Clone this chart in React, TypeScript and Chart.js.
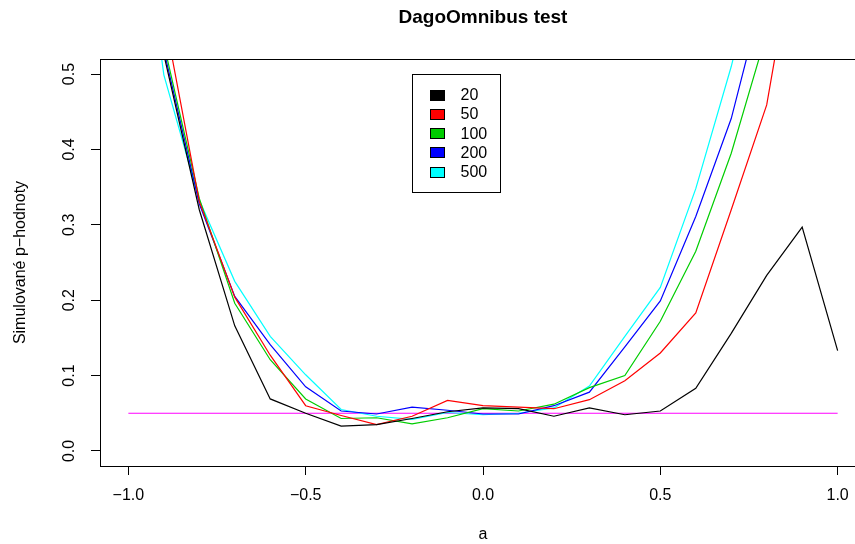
import React, { useEffect, useRef } from "react";
import { Chart, registerables } from "chart.js";

Chart.register(...registerables);

// ---- data ----
const A = [-1.0, -0.9, -0.8, -0.7, -0.6, -0.5, -0.4, -0.3, -0.2, -0.1, 0.0, 0.1, 0.2, 0.3, 0.4, 0.5, 0.6, 0.7, 0.8, 0.9, 1.0];

const N20 = [0.8, 0.526, 0.32, 0.166, 0.069, 0.05, 0.033, 0.035, 0.043, 0.052, 0.057, 0.056, 0.046, 0.057, 0.048, 0.053, 0.083, 0.156, 0.233, 0.297, 0.133];
const N50 = [0.88, 0.58, 0.331, 0.204, 0.127, 0.06, 0.047, 0.035, 0.046, 0.067, 0.06, 0.058, 0.056, 0.068, 0.093, 0.13, 0.183, 0.32, 0.459, 0.73, 0.9];
const N100 = [0.85, 0.54, 0.335, 0.196, 0.121, 0.069, 0.043, 0.044, 0.036, 0.044, 0.056, 0.053, 0.062, 0.084, 0.1, 0.172, 0.265, 0.395, 0.555, 0.8, 0.95];
const N200 = [0.85, 0.532, 0.328, 0.205, 0.141, 0.085, 0.053, 0.049, 0.058, 0.054, 0.049, 0.049, 0.06, 0.078, 0.138, 0.199, 0.311, 0.441, 0.625, 0.85, 0.97];
const N500 = [0.85, 0.499, 0.333, 0.225, 0.152, 0.101, 0.055, 0.046, 0.042, 0.051, 0.048, 0.05, 0.057, 0.086, 0.152, 0.217, 0.348, 0.51, 0.7, 0.9, 0.98];

const SERIES = [N20, N50, N100, N200, N500];
const SERIES_LABELS = ["20", "50", "100", "200", "500"];
const SERIES_COLORS = ["#000000", "#FF0000", "#00CD00", "#0000FF", "#00FFFF"];

const ALPHA_LEVEL = 0.05;
const REF_X = [-1, 1];
const REF_COLOR = "#FF00FF";

const X_TICKS = [-1, -0.5, 0, 0.5, 1];
const X_TICK_LABELS = ["\u22121.0", "\u22120.5", "0.0", "0.5", "1.0"];
const Y_TICKS = [0, 0.1, 0.2, 0.3, 0.4, 0.5];
const Y_TICK_LABELS = ["0.0", "0.1", "0.2", "0.3", "0.4", "0.5"];

const TITLE = "DagoOmnibus test";
const X_TITLE = "a";
const Y_TITLE = "Simulované p\u2212hodnoty";

const LEGEND_X = -0.2;
const LEGEND_Y = 0.5;

const FONT = '"Liberation Sans", Arial, Helvetica, sans-serif';
const SX = 1.0; // horizontal text stretch

function drawText(
  ctx: CanvasRenderingContext2D,
  text: string,
  x: number,
  y: number,
  size: number,
  bold: boolean,
  rotate: boolean,
  align: CanvasTextAlign = "center"
) {
  ctx.save();
  ctx.translate(x, y);
  if (rotate) {
    ctx.rotate(-Math.PI / 2);
    ctx.scale(1, SX);
  } else {
    ctx.scale(SX, 1);
  }
  ctx.font = `${bold ? "bold " : ""}${size}px ${FONT}`;
  ctx.fillStyle = "#000";
  ctx.textAlign = align;
  ctx.textBaseline = "middle";
  ctx.fillText(text, 0, 0);
  ctx.restore();
}

const decorPlugin = {
  id: "decor",
  afterDraw(chart: any) {
    const ctx: CanvasRenderingContext2D = chart.ctx;
    const ca = chart.chartArea;
    const xs = chart.scales.x;
    const ys = chart.scales.y;
    ctx.save();
    // box
    ctx.strokeStyle = "#000";
    ctx.lineWidth = 1;
    ctx.strokeRect(
      Math.round(ca.left) + 0.5,
      Math.round(ca.top) + 0.5,
      Math.round(ca.right - ca.left),
      Math.round(ca.bottom - ca.top)
    );
    const cx = (ca.left + ca.right) / 2;
    const cy = (ca.top + ca.bottom) / 2;
    // title
    drawText(ctx, TITLE, cx, 18, 19, true, false);
    // x title
    drawText(ctx, X_TITLE, cx, 535, 16, false, false);
    // y tick labels
    Y_TICKS.forEach((v, i) => {
      drawText(ctx, Y_TICK_LABELS[i], ca.left - 30, ys.getPixelForValue(v), 16, false, true);
    });
    // y title
    drawText(ctx, Y_TITLE, 21, cy, 16, false, true);

    // legend
    const lx = Math.round(xs.getPixelForValue(LEGEND_X)) + 0.5;
    const ly = Math.round(ys.getPixelForValue(LEGEND_Y)) + 0.5;
    const rowH = 19.3;
    const w = 88;
    const h = 118;
    ctx.fillStyle = "#fff";
    ctx.fillRect(lx, ly, w, h);
    ctx.strokeStyle = "#000";
    ctx.lineWidth = 1;
    ctx.strokeRect(lx, ly, w, h);
    SERIES_LABELS.forEach((lab, i) => {
      const ry = ly + 20 + i * rowH;
      ctx.fillStyle = SERIES_COLORS[i];
      const bx = Math.round(lx + 17) + 0.5;
      const by = Math.round(ry - 5) + 0.5;
      ctx.fillRect(bx, by, 14, 10);
      ctx.strokeStyle = "#000";
      ctx.strokeRect(bx, by, 14, 10);
      drawText(ctx, lab, lx + 48, ry + 1, 16, false, false, "left");
    });
    ctx.restore();
  },
};

export default function App() {
  const ref = useRef<HTMLCanvasElement | null>(null);

  useEffect(() => {
    const canvas = ref.current;
    if (!canvas) return;
    const datasets: any[] = SERIES.map((vals, i) => ({
      label: SERIES_LABELS[i],
      data: A.map((x, j) => ({ x, y: vals[j] })),
      borderColor: SERIES_COLORS[i],
      backgroundColor: SERIES_COLORS[i],
      borderWidth: 1.2,
      pointRadius: 0,
      tension: 0,
      fill: false,
    }));
    datasets.push({
      label: "alpha",
      data: REF_X.map((x) => ({ x, y: ALPHA_LEVEL })),
      borderColor: REF_COLOR,
      backgroundColor: REF_COLOR,
      borderWidth: 1.2,
      pointRadius: 0,
      tension: 0,
      fill: false,
    });

    const chart = new Chart(canvas, {
      type: "line",
      data: { datasets },
      options: {
        responsive: false,
        animation: false,
        devicePixelRatio: 1,
        layout: { padding: { top: 59, right: 34, left: 0, bottom: 0 } },
        plugins: {
          legend: { display: false },
          tooltip: { enabled: false },
          title: { display: false },
        },
        scales: {
          x: {
            type: "linear",
            position: "bottom",
            min: -1.08,
            max: 1.08,
            afterFit: (s: any) => {
              s.height = 78;
            },
            afterBuildTicks: (s: any) => {
              s.ticks = X_TICKS.map((v) => ({ value: v }));
            },
            ticks: {
              autoSkip: false,
              maxRotation: 0,
              minRotation: 0,
              padding: 11,
              color: "#000",
              font: { family: FONT, size: 16 },
              callback: (v: any) => {
                const k = X_TICKS.indexOf(Number(v));
                return k >= 0 ? X_TICK_LABELS[k] : "";
              },
            },
            grid: {
              drawOnChartArea: false,
              drawTicks: true,
              tickLength: 9,
              color: "#000",
              lineWidth: 1,
            },
            border: { display: false },
          },
          y: {
            type: "linear",
            min: -0.02,
            max: 0.52,
            afterFit: (s: any) => {
              s.width = 100;
            },
            afterBuildTicks: (s: any) => {
              s.ticks = Y_TICKS.map((v) => ({ value: v }));
            },
            ticks: { display: false },
            grid: {
              drawOnChartArea: false,
              drawTicks: true,
              tickLength: 9,
              color: "#000",
              lineWidth: 1,
            },
            border: { display: false },
          },
        },
      } as any,
      plugins: [decorPlugin],
    });
    return () => chart.destroy();
  }, []);

  return (
    <div
      style={{
        position: "fixed",
        left: 0,
        top: 0,
        width: 855,
        height: 544,
        overflow: "hidden",
        background: "#fff",
      }}
    >
      <canvas ref={ref} width={900} height={544} style={{ display: "block", width: 900, height: 544 }} />
    </div>
  );
}
